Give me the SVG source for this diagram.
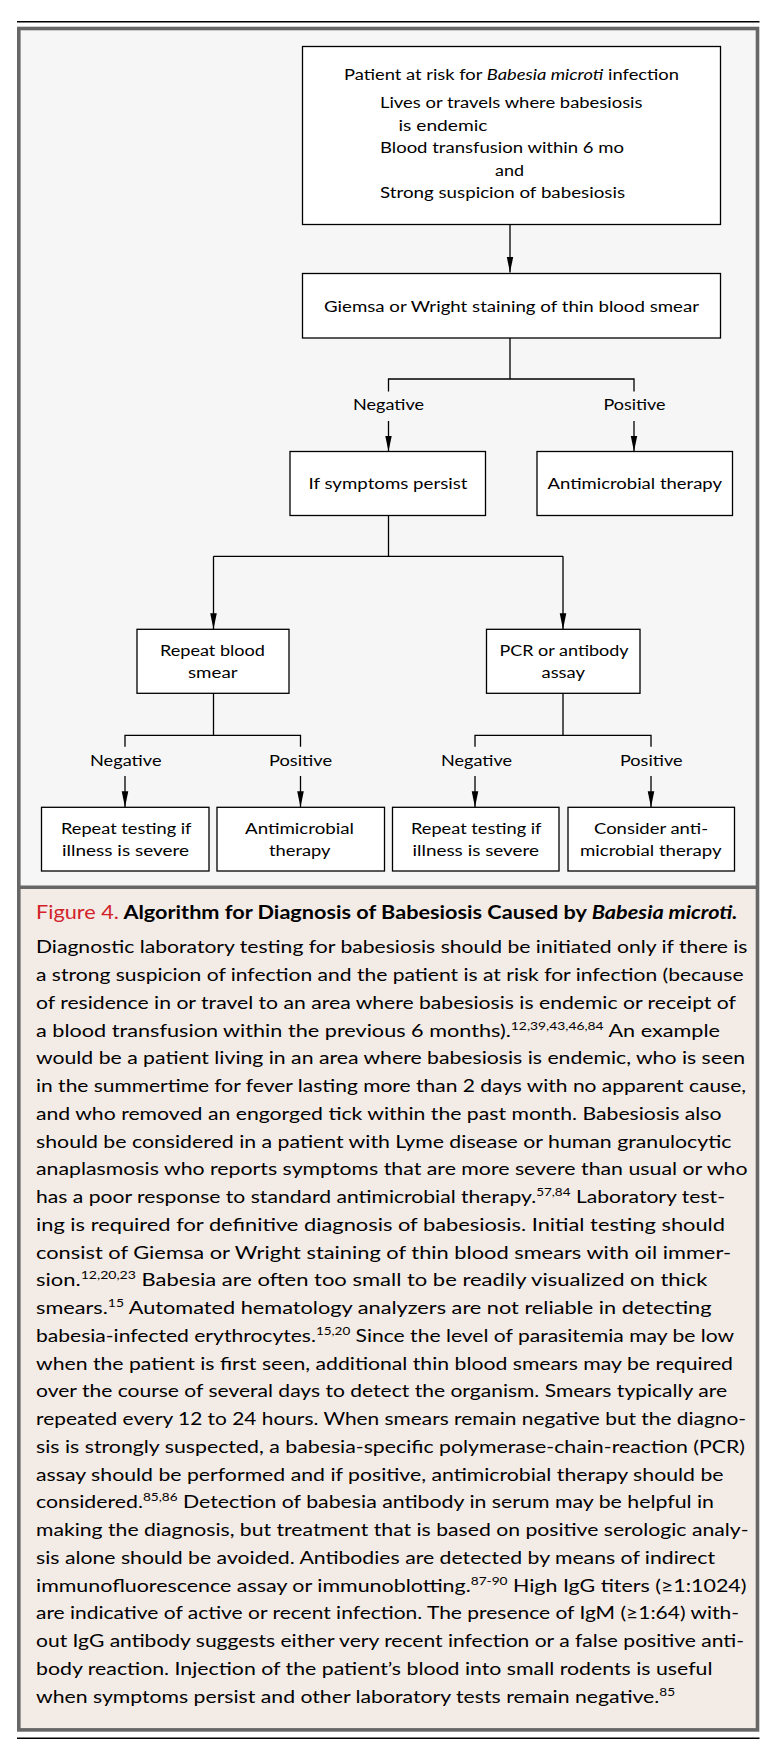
<svg xmlns="http://www.w3.org/2000/svg" width="782" height="1748" viewBox="0 0 782 1748">
<style>
text{font-family:Lato,"Liberation Sans",sans-serif;fill:#000}
.n{font-size:15.5px}
.c{text-anchor:middle}
.b{font-size:18px}
.t{font-size:19px}
.box{fill:#fff;stroke:#000;stroke-width:1.3}
.con{fill:none;stroke:#000;stroke-width:1.3}
.sup{font-size:11.5px}
</style>
<defs>
<marker id="ah" viewBox="0 -4 16 8" refX="16" refY="0" markerWidth="16" markerHeight="8" markerUnits="userSpaceOnUse" orient="auto">
<path d="M0,-3.3 L16,0 L0,3.3 z" fill="#000"/>
</marker>
</defs>
<rect x="0" y="0" width="782" height="1748" fill="#fff"/>
<line x1="17" y1="21.7" x2="759.5" y2="21.7" stroke="#000" stroke-width="1.6"/>
<rect x="18.8" y="28.5" width="738.7" height="858.8" fill="#f6f6f6"/>
<rect x="18.8" y="887.3" width="738.7" height="842.6" fill="#f3ebe6"/>
<rect x="18.8" y="28.5" width="738.7" height="1701.4" fill="none" stroke="#676767" stroke-width="3.6"/>
<line x1="18.8" y1="887.3" x2="757.5" y2="887.3" stroke="#676767" stroke-width="3.4"/>
<line x1="17" y1="1738.3" x2="759.5" y2="1738.3" stroke="#000" stroke-width="1.6"/>

<g id="connectors">
<path class="con" d="M510,224.5 V272.5" marker-end="url(#ah)"/>
<path class="con" d="M510,338 V379 M388.5,391.5 V379 H634 V391.5"/>
<path class="con" d="M388.5,421 V451.5" marker-end="url(#ah)"/>
<path class="con" d="M634,421 V451.5" marker-end="url(#ah)"/>
<path class="con" d="M388.5,515.5 V556.3 M213.5,556.3 H563"/>
<path class="con" d="M213.5,556.3 V629.3" marker-end="url(#ah)"/>
<path class="con" d="M563,556.3 V629.3" marker-end="url(#ah)"/>
<path class="con" d="M213.5,693.3 V735.3 M125,746.7 V735.3 H300.5 V746.7"/>
<path class="con" d="M563,693.3 V735.3 M475,746.7 V735.3 H651 V746.7"/>
<path class="con" d="M125,776 V807.3" marker-end="url(#ah)"/>
<path class="con" d="M300.5,776 V807.3" marker-end="url(#ah)"/>
<path class="con" d="M475,776 V807.3" marker-end="url(#ah)"/>
<path class="con" d="M651,776 V807.3" marker-end="url(#ah)"/>
</g>

<g id="labels">
<text class="n" x="353" y="410" textLength="71" lengthAdjust="spacingAndGlyphs">Negative</text>
<text class="n" x="603.5" y="410" textLength="62" lengthAdjust="spacingAndGlyphs">Positive</text>
<text class="n" x="90" y="765.5" textLength="71.5" lengthAdjust="spacingAndGlyphs">Negative</text>
<text class="n" x="269" y="765.5" textLength="63" lengthAdjust="spacingAndGlyphs">Positive</text>
<text class="n" x="441" y="765.5" textLength="71" lengthAdjust="spacingAndGlyphs">Negative</text>
<text class="n" x="620" y="765.5" textLength="62.5" lengthAdjust="spacingAndGlyphs">Positive</text>
</g>

<g id="node-risk">
<rect class="box" x="302.5" y="46.5" width="418" height="178"/>
<text class="n" x="344" y="80" textLength="335" lengthAdjust="spacingAndGlyphs">Patient at risk for <tspan font-style="italic">Babesia microti</tspan> infection</text>
<text class="n" x="380" y="108" textLength="262.5" lengthAdjust="spacingAndGlyphs">Lives or travels where babesiosis</text>
<text class="n" x="398.5" y="130.5" textLength="89" lengthAdjust="spacingAndGlyphs">is endemic</text>
<text class="n" x="380" y="153" textLength="244" lengthAdjust="spacingAndGlyphs">Blood transfusion within 6 mo</text>
<text class="n" x="495" y="175.5" textLength="29" lengthAdjust="spacingAndGlyphs">and</text>
<text class="n" x="380" y="198" textLength="245" lengthAdjust="spacingAndGlyphs">Strong suspicion of babesiosis</text>
</g>

<g id="node-smear">
<rect class="box" x="302.5" y="273.5" width="418" height="64.5"/>
<text class="n" x="324" y="311.5" textLength="375" lengthAdjust="spacingAndGlyphs">Giemsa or Wright staining of thin blood smear</text>
</g>

<g id="node-persist">
<rect class="box" x="290" y="451.5" width="195.5" height="64"/>
<text class="n" x="308.5" y="489" textLength="159" lengthAdjust="spacingAndGlyphs">If symptoms persist</text>
</g>

<g id="node-therapy1">
<rect class="box" x="537" y="451.5" width="195.5" height="64"/>
<text class="n" x="547.5" y="489" textLength="174.5" lengthAdjust="spacingAndGlyphs">Antimicrobial therapy</text>
</g>

<g id="node-repeat">
<rect class="box" x="137" y="629.3" width="152" height="64"/>
<text class="n" x="160" y="656" textLength="105" lengthAdjust="spacingAndGlyphs">Repeat blood</text>
<text class="n" x="188" y="677.7" textLength="49.5" lengthAdjust="spacingAndGlyphs">smear</text>
</g>

<g id="node-pcr">
<rect class="box" x="486.5" y="629.3" width="153.5" height="64"/>
<text class="n" x="499.5" y="656" textLength="129" lengthAdjust="spacingAndGlyphs">PCR or antibody</text>
<text class="n" x="541.5" y="677.7" textLength="43.5" lengthAdjust="spacingAndGlyphs">assay</text>
</g>

<g id="node-repeat-test1">
<rect class="box" x="41.5" y="807.3" width="167.5" height="63.7"/>
<text class="n" x="61" y="834.3" textLength="130.5" lengthAdjust="spacingAndGlyphs">Repeat testing if</text>
<text class="n" x="62" y="856" textLength="127" lengthAdjust="spacingAndGlyphs">illness is severe</text>
</g>

<g id="node-therapy2">
<rect class="box" x="217" y="807.3" width="167.5" height="63.7"/>
<text class="n" x="245" y="834.3" textLength="109" lengthAdjust="spacingAndGlyphs">Antimicrobial</text>
<text class="n" x="269" y="856" textLength="61.5" lengthAdjust="spacingAndGlyphs">therapy</text>
</g>

<g id="node-repeat-test2">
<rect class="box" x="392.5" y="807.3" width="166.5" height="63.7"/>
<text class="n" x="411" y="834.3" textLength="130.5" lengthAdjust="spacingAndGlyphs">Repeat testing if</text>
<text class="n" x="412.5" y="856" textLength="126.5" lengthAdjust="spacingAndGlyphs">illness is severe</text>
</g>

<g id="node-consider">
<rect class="box" x="568" y="807.3" width="166.5" height="63.7"/>
<text class="n" x="594" y="834.3" textLength="114" lengthAdjust="spacingAndGlyphs">Consider anti-</text>
<text class="n" x="580" y="856" textLength="141.5" lengthAdjust="spacingAndGlyphs">microbial therapy</text>
</g>

<g id="caption">
<text class="t" x="36" y="918.5" textLength="701.5" lengthAdjust="spacingAndGlyphs"><tspan fill="#d2232a">Figure 4.</tspan><tspan font-weight="bold"> Algorithm for Diagnosis of Babesiosis Caused by </tspan><tspan font-weight="bold" font-style="italic">Babesia microti.</tspan></text>
<text class="b" x="36" y="953.3" textLength="711.5" lengthAdjust="spacingAndGlyphs">Diagnostic laboratory testing for babesiosis should be initiated only if there is</text>
<text class="b" x="36" y="981" textLength="707.5" lengthAdjust="spacingAndGlyphs">a strong suspicion of infection and the patient is at risk for infection (because</text>
<text class="b" x="36" y="1008.8" textLength="700" lengthAdjust="spacingAndGlyphs">of residence in or travel to an area where babesiosis is endemic or receipt of</text>
<text class="b" x="36" y="1036.5" textLength="684" lengthAdjust="spacingAndGlyphs">a blood transfusion within the previous 6 months).<tspan class="sup" dy="-7">12,39,43,46,84</tspan><tspan dy="7"> An example</tspan></text>
<text class="b" x="36" y="1064.3" textLength="709" lengthAdjust="spacingAndGlyphs">would be a patient living in an area where babesiosis is endemic, who is seen</text>
<text class="b" x="36" y="1092" textLength="710" lengthAdjust="spacingAndGlyphs">in the summertime for fever lasting more than 2 days with no apparent cause,</text>
<text class="b" x="36" y="1119.8" textLength="685.5" lengthAdjust="spacingAndGlyphs">and who removed an engorged tick within the past month. Babesiosis also</text>
<text class="b" x="36" y="1147.5" textLength="695.5" lengthAdjust="spacingAndGlyphs">should be considered in a patient with Lyme disease or human granulocytic</text>
<text class="b" x="36" y="1175.3" textLength="711.5" lengthAdjust="spacingAndGlyphs">anaplasmosis who reports symptoms that are more severe than usual or who</text>
<text class="b" x="36" y="1203" textLength="689" lengthAdjust="spacingAndGlyphs">has a poor response to standard antimicrobial therapy.<tspan class="sup" dy="-7">57,84</tspan><tspan dy="7"> Laboratory test-</tspan></text>
<text class="b" x="36" y="1230.8" textLength="689" lengthAdjust="spacingAndGlyphs">ing is required for definitive diagnosis of babesiosis. Initial testing should</text>
<text class="b" x="36" y="1258.5" textLength="695" lengthAdjust="spacingAndGlyphs">consist of Giemsa or Wright staining of thin blood smears with oil immer-</text>
<text class="b" x="36" y="1286.3" textLength="671.5" lengthAdjust="spacingAndGlyphs">sion.<tspan class="sup" dy="-7">12,20,23</tspan><tspan dy="7"> Babesia are often too small to be readily visualized on thick</tspan></text>
<text class="b" x="36" y="1314" textLength="675.5" lengthAdjust="spacingAndGlyphs">smears.<tspan class="sup" dy="-7">15</tspan><tspan dy="7"> Automated hematology analyzers are not reliable in detecting</tspan></text>
<text class="b" x="36" y="1341.8" textLength="698" lengthAdjust="spacingAndGlyphs">babesia-infected erythrocytes.<tspan class="sup" dy="-7">15,20</tspan><tspan dy="7"> Since the level of parasitemia may be low</tspan></text>
<text class="b" x="36" y="1369.5" textLength="697" lengthAdjust="spacingAndGlyphs">when the patient is first seen, additional thin blood smears may be required</text>
<text class="b" x="36" y="1397.3" textLength="691" lengthAdjust="spacingAndGlyphs">over the course of several days to detect the organism. Smears typically are</text>
<text class="b" x="36" y="1425" textLength="710" lengthAdjust="spacingAndGlyphs">repeated every 12 to 24 hours. When smears remain negative but the diagno-</text>
<text class="b" x="36" y="1452.8" textLength="709" lengthAdjust="spacingAndGlyphs">sis is strongly suspected, a babesia-specific polymerase-chain-reaction (PCR)</text>
<text class="b" x="36" y="1480.5" textLength="687.5" lengthAdjust="spacingAndGlyphs">assay should be performed and if positive, antimicrobial therapy should be</text>
<text class="b" x="36" y="1508.3" textLength="678" lengthAdjust="spacingAndGlyphs">considered.<tspan class="sup" dy="-7">85,86</tspan><tspan dy="7"> Detection of babesia antibody in serum may be helpful in</tspan></text>
<text class="b" x="36" y="1536" textLength="712.5" lengthAdjust="spacingAndGlyphs">making the diagnosis, but treatment that is based on positive serologic analy-</text>
<text class="b" x="36" y="1563.8" textLength="679" lengthAdjust="spacingAndGlyphs">sis alone should be avoided. Antibodies are detected by means of indirect</text>
<text class="b" x="36" y="1591.5" textLength="710.5" lengthAdjust="spacingAndGlyphs">immunofluorescence assay or immunoblotting.<tspan class="sup" dy="-7">87-90</tspan><tspan dy="7"> High IgG titers (≥1:1024)</tspan></text>
<text class="b" x="36" y="1619.3" textLength="703" lengthAdjust="spacingAndGlyphs">are indicative of active or recent infection. The presence of IgM (≥1:64) with-</text>
<text class="b" x="36" y="1647" textLength="708" lengthAdjust="spacingAndGlyphs">out IgG antibody suggests either very recent infection or a false positive anti-</text>
<text class="b" x="36" y="1674.8" textLength="676.5" lengthAdjust="spacingAndGlyphs">body reaction. Injection of the patient’s blood into small rodents is useful</text>
<text class="b" x="36" y="1702.5" textLength="639" lengthAdjust="spacingAndGlyphs">when symptoms persist and other laboratory tests remain negative.<tspan class="sup" dy="-7">85</tspan></text>
</g>
</svg>
